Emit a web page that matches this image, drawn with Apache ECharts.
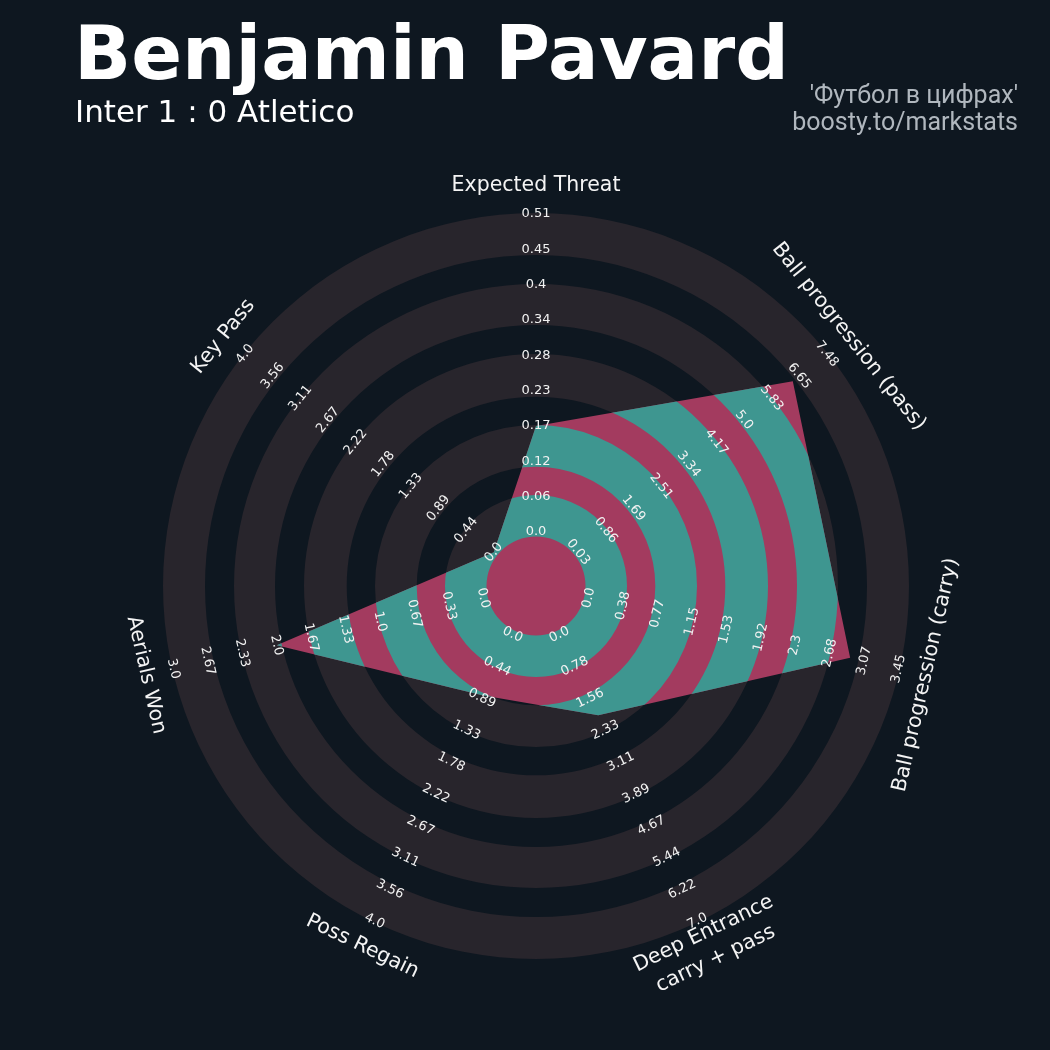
<!DOCTYPE html>
<html>
<head>
<meta charset="utf-8">
<script src="https://cdn.jsdelivr.net/npm/echarts@6/dist/echarts.min.js"></script>
<style>
html,body{margin:0;padding:0;background:#0e1720;}
#c{width:1050px;height:1050px;}
</style>
</head>
<body>
<div id="c"></div>
<script>
// ---------------- DATA ----------------
const paramNames = ['Expected Threat', 'Ball progression (pass)', 'Ball progression (carry)',
  'Deep Entrance\ncarry + pass', 'Poss Regain', 'Aerials Won', 'Key Pass'];
const minRange = [0, 0.03, 0, 0, 0, 0, 0];
const maxRange = [0.51, 7.48, 3.45, 7.0, 4.0, 3.0, 4.0];
const playerValues = [0.17, 6.46, 2.91, 1.97, 0.85, 2.0, 0.0];
const rangeLabels = [
  ['0.0', '0.06', '0.12', '0.17', '0.23', '0.28', '0.34', '0.4', '0.45', '0.51'],
  ['0.03', '0.86', '1.69', '2.51', '3.34', '4.17', '5.0', '5.83', '6.65', '7.48'],
  ['0.0', '0.38', '0.77', '1.15', '1.53', '1.92', '2.3', '2.68', '3.07', '3.45'],
  ['0.0', '0.78', '1.56', '2.33', '3.11', '3.89', '4.67', '5.44', '6.22', '7.0'],
  ['0.0', '0.44', '0.89', '1.33', '1.78', '2.22', '2.67', '3.11', '3.56', '4.0'],
  ['0.0', '0.33', '0.67', '1.0', '1.33', '1.67', '2.0', '2.33', '2.67', '3.0'],
  ['0.0', '0.44', '0.89', '1.33', '1.78', '2.22', '2.67', '3.11', '3.56', '4.0']
];
const titleText = 'Benjamin Pavard';
const subtitleText = 'Inter 1 : 0 Atletico';
const creditLines = ["'Футбол в цифрах'", 'boosty.to/markstats'];

// ---------------- LAYOUT / STYLE ----------------
const BG = '#0e1720';
const RING_COLOR = '#28252c';
const TEAL = '#3e9690';
const PINK = '#a33b5f';
const CX = 536, CY = 586, R_OUT = 373;
const R_MIN = 54, R_MAX = 372;          // radial position of range min / max
const RINGS = [[49.5, 91], [119.3, 161], [189.3, 232], [261, 302], [331, 373]];
const TITLE_R = 400;

const N = paramNames.length;
const STEP = 360 / N;
function scaleR(v, k) {
  return R_MIN + (v - minRange[k]) / (maxRange[k] - minRange[k]) * (R_MAX - R_MIN);
}
function uprightRot(k) {
  let d = -k * STEP;
  while (d <= -180) d += 360;
  while (d > 180) d -= 360;
  if (d > 90) d -= 180;
  if (d < -90) d += 180;
  return d * Math.PI / 180;
}
function dist(a, b) { return Math.hypot(a[0] - b[0], a[1] - b[1]); }

const chart = echarts.init(document.getElementById('c'), null, {renderer: 'canvas', width: 1050, height: 1050});

const ringData = RINGS.map((r, i) => [i, 0]);
const tickData = [];
rangeLabels.forEach((arr, k) => arr.forEach((lab, i) => tickData.push([k, i])));
const titleData = paramNames.map((n, k) => [k, 0]);

const hiddenAxis = {
  axisLine: {show: false}, axisTick: {show: false}, axisLabel: {show: false},
  splitLine: {show: false}, splitArea: {show: false}
};

const option = {
  backgroundColor: BG,
  animation: false,
  polar: {center: [CX, CY], radius: R_OUT},
  angleAxis: Object.assign({type: 'value', min: 0, max: 360, startAngle: 90, clockwise: true}, hiddenAxis),
  radiusAxis: Object.assign({type: 'value', min: 0, max: R_OUT}, hiddenAxis),
  graphic: [
    {type: 'text', x: 74, y: 60, z: 10,
      style: {text: titleText, fill: '#ffffff', fontSize: 75, fontWeight: 'bold',
        fontFamily: 'DejaVu Sans', align: 'left', verticalAlign: 'middle'}},
    {type: 'text', x: 75, y: 113.5, z: 10,
      style: {text: subtitleText, fill: '#ffffff', fontSize: 31,
        fontFamily: 'DejaVu Sans', align: 'left', verticalAlign: 'middle'}},
    {type: 'text', x: 1018, y: 97, z: 10,
      style: {text: creditLines[0], fill: '#b0b7be', fontSize: 25,
        fontFamily: 'Roboto', align: 'right', verticalAlign: 'middle'}},
    {type: 'text', x: 1018, y: 124, z: 10,
      style: {text: creditLines[1], fill: '#b0b7be', fontSize: 25,
        fontFamily: 'Roboto', align: 'right', verticalAlign: 'middle'}}
  ],
  series: [
    {
      type: 'custom', name: 'rings', coordinateSystem: 'polar', z: 1, silent: true,
      data: ringData,
      renderItem: function (p, api) {
        const i = api.value(0);
        const c = api.coord([0, 0]);
        const o = api.coord([RINGS[i][1], 0]);
        const n = api.coord([RINGS[i][0], 0]);
        return {type: 'ring', shape: {cx: c[0], cy: c[1], r: dist(o, c), r0: dist(n, c)},
          style: {fill: RING_COLOR}};
      }
    },
    {
      type: 'custom', name: 'radar', coordinateSystem: 'polar', z: 2, silent: true,
      data: [[0, 0]],
      renderItem: function (p, api) {
        const pts = playerValues.map((v, k) => api.coord([scaleR(v, k), k * STEP]));
        const c = api.coord([0, 0]);
        const children = [{type: 'polygon', shape: {points: pts}, style: {fill: PINK}}];
        RINGS.forEach((rr) => {
          const o = api.coord([rr[1], 0]);
          const n = api.coord([rr[0], 0]);
          children.push({
            type: 'ring',
            shape: {cx: c[0], cy: c[1], r: dist(o, c), r0: dist(n, c)},
            style: {fill: TEAL},
            clipPath: {type: 'polygon', shape: {points: pts}}
          });
        });
        return {type: 'group', children: children};
      }
    },
    {
      type: 'custom', name: 'rangeLabels', coordinateSystem: 'polar', z: 3, silent: true,
      data: tickData,
      renderItem: function (p, api) {
        const k = api.value(0), i = api.value(1);
        const n = rangeLabels[k].length;
        const r = R_MIN + i / (n - 1) * (R_MAX - R_MIN);
        const pt = api.coord([r, k * STEP]);
        return {type: 'text', x: pt[0], y: pt[1], rotation: uprightRot(k),
          style: {text: rangeLabels[k][i], fill: '#f2f2f2', fontSize: 13,
            fontFamily: 'DejaVu Sans', align: 'center', verticalAlign: 'middle'}};
      }
    },
    {
      type: 'custom', name: 'paramNames', coordinateSystem: 'polar', z: 3, silent: true,
      data: titleData,
      renderItem: function (p, api) {
        const k = api.value(0);
        const pt = api.coord([TITLE_R, k * STEP]);
        return {type: 'text', x: pt[0], y: pt[1], rotation: uprightRot(k),
          style: {text: paramNames[k], fill: '#f4f4f4', fontSize: 20.5, lineHeight: 28,
            fontFamily: 'DejaVu Sans', align: 'center', verticalAlign: 'middle'}};
      }
    }
  ]
};
chart.setOption(option);
</script>
</body>
</html>
